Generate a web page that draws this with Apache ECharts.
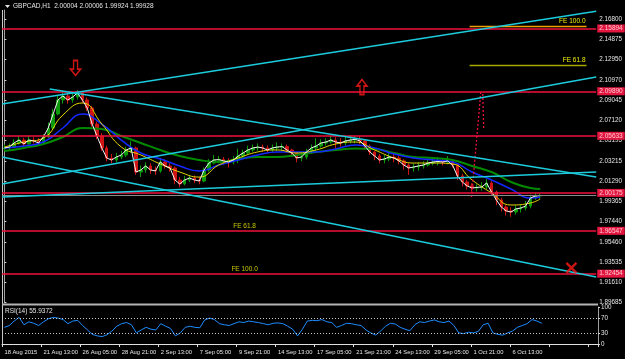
<!DOCTYPE html>
<html>
<head>
<meta charset="utf-8">
<script src="https://cdn.jsdelivr.net/npm/echarts@6/dist/echarts.min.js"></script>
<style>html,body{margin:0;padding:0;background:#000;}</style>
</head>
<body>
<div id="main" style="width:625px;height:359px;"></div>
<script type="text/javascript">
// GBPCAD H1, 18 Aug - 7 Oct 2015, one candle per 8 hours
var timeLabels = ['18 Aug 2015', '21 Aug 13:00', '26 Aug 05:00', '28 Aug 21:00', '2 Sep 13:00', '7 Sep 05:00',
    '9 Sep 21:00', '14 Sep 13:00', '17 Sep 05:00', '21 Sep 21:00', '24 Sep 13:00', '29 Sep 05:00',
    '1 Oct 21:00', '6 Oct 13:00'];
var priceTicks = [2.16800, 2.14875, 2.12950, 2.10970, 2.09045, 2.07120, 2.05195, 2.03215, 2.01290,
    1.99365, 1.97440, 1.95460, 1.93535, 1.91610, 1.89685];
var rsiTicks = [0, 30, 70, 100];
var levels = [2.15894, 2.09890, 2.05633, 2.00175, 1.96547, 1.92454];
var bidPrice = 1.99928;
var titleText = 'GBPCAD,H1  2.00004 2.00006 1.99924 1.99928';
var rsiText = 'RSI(14) 55.9372';

var firstOpen = 2.0440;
var closes = [2.0447, 2.0456, 2.0495, 2.0523, 2.0485, 2.0523, 2.0514, 2.0495, 2.0552, 2.0638,
    2.0772, 2.0906, 2.0944, 2.0906, 2.0934, 2.0973, 2.0906, 2.0829, 2.0676, 2.0561,
    2.0447, 2.0351, 2.0332, 2.0361, 2.0380, 2.0428, 2.0447, 2.0217, 2.0237, 2.0275,
    2.0237, 2.0227, 2.0313, 2.0275, 2.0256, 2.0141, 2.0103, 2.0141, 2.0160, 2.0141,
    2.0131, 2.0237, 2.0303, 2.0332, 2.0336, 2.0323, 2.0313, 2.0332, 2.0370, 2.0399,
    2.0428, 2.0447, 2.0456, 2.0447, 2.0428, 2.0447, 2.0456, 2.0460, 2.0428, 2.0399,
    2.0351, 2.0361, 2.0409, 2.0447, 2.0466, 2.0495, 2.0504, 2.0523, 2.0504, 2.0495,
    2.0514, 2.0523, 2.0530, 2.0514, 2.0466, 2.0409, 2.0370, 2.0332, 2.0342, 2.0361,
    2.0351, 2.0323, 2.0284, 2.0256, 2.0265, 2.0275, 2.0284, 2.0303, 2.0313, 2.0318,
    2.0313, 2.0323, 2.0284, 2.0179, 2.0122, 2.0084, 2.0064, 2.0070, 2.0074, 2.0112,
    2.0026, 1.9950, 1.9883, 1.9845, 1.9835, 1.9864, 1.9873, 1.9892, 1.9969, 1.9988,
    1.99928];
var highs = [2.0480, 2.0490, 2.0530, 2.0560, 2.0545, 2.0565, 2.0550, 2.0540, 2.0580, 2.0690,
    2.0820, 2.0950, 2.0985, 2.0970, 2.0980, 2.1000, 2.0990, 2.0930, 2.0850, 2.0700,
    2.0590, 2.0470, 2.0390, 2.0400, 2.0420, 2.0460, 2.0510, 2.0460, 2.0280, 2.0310,
    2.0300, 2.0270, 2.0350, 2.0340, 2.0300, 2.0270, 2.0170, 2.0180, 2.0190, 2.0185,
    2.0170, 2.0260, 2.0340, 2.0380, 2.0370, 2.0360, 2.0350, 2.0370, 2.0440, 2.0430,
    2.0470, 2.0480, 2.0490, 2.0480, 2.0470, 2.0480, 2.0500, 2.0490, 2.0480, 2.0440,
    2.0410, 2.0390, 2.0440, 2.0480, 2.0540, 2.0530, 2.0540, 2.0560, 2.0550, 2.0540,
    2.0560, 2.0570, 2.0560, 2.0560, 2.0530, 2.0480, 2.0420, 2.0390, 2.0380, 2.0400,
    2.0390, 2.0370, 2.0340, 2.0300, 2.0300, 2.0310, 2.0320, 2.0340, 2.0350, 2.0360,
    2.0350, 2.0370, 2.0340, 2.0300, 2.0200, 2.0140, 2.0110, 2.0100, 2.0120, 2.0150,
    2.0130, 2.0040, 1.9970, 1.9900, 1.9880, 1.9900, 1.9910, 1.9940, 2.0000, 2.0020,
    2.0015];
var lows = [2.0420, 2.0430, 2.0445, 2.0480, 2.0462, 2.0470, 2.0490, 2.0470, 2.0480, 2.0540,
    2.0620, 2.0760, 2.0870, 2.0870, 2.0880, 2.0910, 2.0880, 2.0800, 2.0650, 2.0530,
    2.0420, 2.0320, 2.0300, 2.0310, 2.0340, 2.0360, 2.0400, 2.0190, 2.0170, 2.0210,
    2.0200, 2.0190, 2.0210, 2.0250, 2.0220, 2.0100, 2.0070, 2.0090, 2.0120, 2.0110,
    2.0100, 2.0120, 2.0220, 2.0290, 2.0300, 2.0290, 2.0260, 2.0290, 2.0300, 2.0350,
    2.0380, 2.0410, 2.0420, 2.0410, 2.0400, 2.0400, 2.0420, 2.0420, 2.0400, 2.0370,
    2.0310, 2.0320, 2.0340, 2.0390, 2.0420, 2.0450, 2.0470, 2.0490, 2.0440, 2.0460,
    2.0470, 2.0490, 2.0490, 2.0480, 2.0430, 2.0380, 2.0330, 2.0300, 2.0300, 2.0320,
    2.0310, 2.0290, 2.0240, 2.0190, 2.0220, 2.0230, 2.0250, 2.0270, 2.0280, 2.0280,
    2.0280, 2.0290, 2.0260, 2.0140, 2.0080, 2.0050, 2.0030, 2.0030, 2.0040, 2.0050,
    1.9990, 1.9900, 1.9840, 1.9800, 1.9790, 1.9810, 1.9830, 1.9850, 1.9870, 1.9950,
    1.9960];

// moving averages, sampled every 4 candles
var maIdx = [0, 4, 8, 12, 16, 20, 24, 28, 32, 36, 40, 44, 48, 52, 56, 60, 64, 68, 72, 76, 80, 84, 88, 92, 96, 100, 104, 108, 110];
var maYellow = [2.0456, 2.0504, 2.0542, 2.0762, 2.0877, 2.0676, 2.0456, 2.0380, 2.0294, 2.0217, 2.0169, 2.0284, 2.0351, 2.0409, 2.0428,
    2.0399, 2.0428, 2.0485, 2.0504, 2.0428, 2.0351, 2.0303, 2.0303, 2.0294, 2.0141, 2.0017, 1.9902, 1.9921, 1.9959];
var maBlue = [2.0447, 2.0466, 2.0504, 2.0638, 2.0772, 2.0676, 2.0523, 2.0399, 2.0342, 2.0275, 2.0227, 2.0284, 2.0332, 2.0380, 2.0409,
    2.0409, 2.0409, 2.0437, 2.0475, 2.0447, 2.0389, 2.0351, 2.0332, 2.0313, 2.0217, 2.0141, 2.0055, 1.9969, 1.9978];
var maGreen = [2.0418, 2.0447, 2.0485, 2.0552, 2.0638, 2.0628, 2.0562, 2.0495, 2.0428, 2.0370, 2.0332, 2.0313, 2.0342, 2.0361, 2.0361,
    2.0380, 2.0409, 2.0428, 2.0442, 2.0437, 2.0399, 2.0361, 2.0351, 2.0332, 2.0275, 2.0217, 2.0122, 2.0064, 2.0055];

var rsi = [45, 50, 62, 72, 52, 60, 56, 50, 60, 68, 72, 70, 66, 55, 62, 64, 50, 38, 26, 22,
    20, 25, 35, 48, 55, 58, 52, 30, 38, 45, 40, 38, 55, 48, 42, 22, 30, 45, 48, 45,
    44, 65, 70, 66, 55, 52, 50, 55, 60, 58, 62, 60, 58, 55, 52, 56, 57, 55, 48, 40,
    22, 40, 62, 64, 63, 66, 60, 58, 45, 50, 56, 55, 52, 50, 38, 30, 24, 35, 48, 56,
    54, 45, 40, 36, 52, 60, 58, 62, 65, 60, 58, 62, 50, 30, 28, 32, 30, 34, 52, 56,
    30, 26, 24, 30, 35, 45, 50, 55, 66, 62, 56];

// drawn objects: [slot1, price1, slot2, price2]
var trendLines = [
    [-0.5, 2.0867, 121.5, 2.1754],
    [-0.5, 2.0103, 121.5, 2.1125],
    [9.3, 2.1011, 121.5, 2.0169],
    [-0.5, 2.0361, 121.5, 1.9213],
    [-0.5, 1.9978, 121.5, 2.0217]
];
var feTop = [['FE 100.0', 2.1612, '#f0a000'], ['FE 61.8', 2.1240, '#a8a800']];
var feTopSpan = [95.5, 119.5];
var feLow = [['FE 61.8', 49.3, 1.96547], ['FE 100.0', 49.3, 1.92454]];
var dottedLines = [
    [97.8, 2.0982, 95.9, 1.9978],
    [98.2, 2.0963, 98.4, 2.0634]
];
var arrowMarks = [[14.6, 2.1211, 0], [73.4, 2.1030, 180]];
var crossMark = [116.4, 1.9300];

var nSlots = 122;
var FONT = 'Liberation Sans';

var cats = [];
for (var i = 0; i < nSlots; i++) {
    cats.push(i % 8 === 0 && timeLabels[i / 8] ? timeLabels[i / 8] : '#' + i);
}
var candles = closes.map(function (c, i) {
    var o = i === 0 ? firstOpen : closes[i - 1];
    return [o, c, lows[i], highs[i]];
});
function maData(arr) {
    return arr.map(function (v, k) { return [maIdx[k], v]; });
}

var chart = echarts.init(document.getElementById('main'));

var series = [
    {
        name: 'candles', type: 'candlestick', xAxisIndex: 0, yAxisIndex: 0,
        data: candles, barWidth: 3, z: 2,
        itemStyle: {
            color: '#0a9a0a', color0: '#d01414',
            borderColor: '#0a9a0a', borderColor0: '#d01414', borderWidth: 1
        }
    },
    {
        name: 'ma green', type: 'line', xAxisIndex: 0, yAxisIndex: 0, data: maData(maGreen),
        smooth: true, symbol: 'none', z: 3, lineStyle: { color: '#008a00', width: 2 }
    },
    {
        name: 'ma blue', type: 'line', xAxisIndex: 0, yAxisIndex: 0, data: maData(maBlue),
        smooth: true, symbol: 'none', z: 3, lineStyle: { color: '#1428ff', width: 1.5 }
    },
    {
        name: 'ma yellow', type: 'line', xAxisIndex: 0, yAxisIndex: 0, data: maData(maYellow),
        smooth: true, symbol: 'none', z: 3, lineStyle: { color: '#e6d800', width: 1 }
    },
    {
        name: 'close', type: 'line', xAxisIndex: 0, yAxisIndex: 0, data: closes,
        symbol: 'none', z: 3, lineStyle: { color: '#f4f4f4', width: 1 }
    }
];

trendLines.forEach(function (t, k) {
    var s = {
        type: 'line', xAxisIndex: 1, yAxisIndex: 0, symbol: 'none', z: 5, silent: true,
        data: [[t[0], t[1]], [t[2], t[3]]],
        lineStyle: { color: '#1ccbdc', width: 1.6 }
    };
    if (k === 0) {
        s.markLine = {
            symbol: 'none', silent: true, animation: false, precision: 5,
            lineStyle: { color: '#f0103c', width: 1.5, type: 'solid' },
            label: {
                position: 'end', distance: 1,
                formatter: function (p) { return (+p.value).toFixed(5); },
                backgroundColor: '#e3163f', color: '#ffc8d2',
                fontSize: 6.5, fontFamily: FONT, padding: [1, 2, 0, 2]
            },
            data: levels.map(function (v) { return { yAxis: v }; }).concat([{
                yAxis: bidPrice, lineStyle: { color: '#8a8a8a', width: 1.2 }, label: { show: false }
            }])
        };
    }
    series.push(s);
});

series.push({
    type: 'line', xAxisIndex: 1, yAxisIndex: 0, symbol: 'none', z: 4, silent: true,
    data: [],
    markLine: {
        symbol: 'none', silent: true, animation: false,
        label: {
            position: 'insideEndTop', distance: 1, formatter: '{b}',
            color: '#f0f000', fontSize: 6.5, fontFamily: FONT
        },
        data: feTop.map(function (f) {
            return [
                { name: f[0], coord: [feTopSpan[0], f[1]], lineStyle: { color: f[2], width: 1.4, type: 'solid' } },
                { coord: [feTopSpan[1], f[1]] }
            ];
        })
    }
});

dottedLines.forEach(function (d) {
    series.push({
        type: 'line', xAxisIndex: 1, yAxisIndex: 0, symbol: 'none', z: 4, silent: true,
        data: [[d[0], d[1]], [d[2], d[3]]],
        lineStyle: { color: '#f0103c', width: 1.3, type: [2, 2] }
    });
});

series.push({
    type: 'scatter', xAxisIndex: 1, yAxisIndex: 0, z: 6, silent: true,
    symbolSize: 0,
    data: feLow.map(function (f) { return { name: f[0], value: [f[1], f[2]] }; }),
    label: {
        show: true, position: 'top', distance: 1, formatter: '{b}',
        color: '#f0f000', fontSize: 6.5, fontFamily: FONT
    }
});

series.push({
    type: 'scatter', xAxisIndex: 1, yAxisIndex: 0, z: 6, silent: true,
    symbol: 'path://M3,0L7,0L7,8L10,8L5,14L0,8L3,8Z', symbolSize: [10, 15],
    data: arrowMarks.map(function (a) { return { value: [a[0], a[1]], symbolRotate: a[2] }; }),
    itemStyle: { color: 'rgba(0,0,0,0)', borderColor: '#ff1a1a', borderWidth: 1.6 }
});

series.push({
    type: 'scatter', xAxisIndex: 1, yAxisIndex: 0, z: 6, silent: true,
    symbol: 'path://M0,0L10,10M10,0L0,10', symbolSize: 10,
    data: [crossMark],
    itemStyle: { color: 'rgba(0,0,0,0)', borderColor: '#ff1a1a', borderWidth: 2.4 }
});

series.push({
    name: 'rsi', type: 'line', xAxisIndex: 2, yAxisIndex: 1, data: rsi,
    symbol: 'none', z: 3, lineStyle: { color: '#1e8cff', width: 1 },
    markLine: {
        symbol: 'none', silent: true, animation: false, label: { show: false },
        lineStyle: { color: '#c8c8c8', width: 1, type: [1, 2] },
        data: [{ yAxis: 70 }, { yAxis: 30 }]
    }
});

chart.setOption({
    backgroundColor: '#000',
    animation: false,
    textStyle: { fontFamily: FONT },
    grid: [
        { left: 2, right: 27, top: 10, height: 293 },
        { left: 2, right: 27, top: 307, height: 37 }
    ],
    xAxis: [
        {
            type: 'category', gridIndex: 0, data: cats,
            axisLine: { show: false }, axisTick: { show: false }, axisLabel: { show: false }
        },
        {
            type: 'value', gridIndex: 0, min: -0.5, max: nSlots - 0.5, show: false
        },
        {
            type: 'category', gridIndex: 1, data: cats,
            axisLine: { show: true, lineStyle: { color: '#e0e0e0', width: 1 } },
            axisTick: { show: true, interval: 7, length: 3, lineStyle: { color: '#e0e0e0' } },
            axisLabel: {
                interval: 7, align: 'left', margin: 5, color: '#e6e6e6', fontSize: 5.8, fontFamily: FONT,
                formatter: function (v) { return v.charAt(0) === '#' ? '' : v; }
            }
        }
    ],
    yAxis: [
        {
            type: 'value', gridIndex: 0, position: 'right', min: 1.8965, max: 2.1766,
            axisLine: { show: true, lineStyle: { color: '#a0a0a0', width: 1 } },
            axisTick: { show: true, customValues: priceTicks, length: 2, lineStyle: { color: '#d0d0d0' } },
            axisLabel: {
                customValues: priceTicks, margin: 3, color: '#e6e6e6', fontSize: 6.3, fontFamily: FONT,
                formatter: function (v) { return v.toFixed(5); }
            },
            splitLine: { show: false }
        },
        {
            type: 'value', gridIndex: 1, position: 'right', min: 0, max: 100,
            axisLine: { show: true, lineStyle: { color: '#a0a0a0', width: 1 } },
            axisTick: { show: true, customValues: rsiTicks, length: 2, lineStyle: { color: '#d0d0d0' } },
            axisLabel: {
                customValues: rsiTicks, margin: 3, color: '#e6e6e6', fontSize: 6.3, fontFamily: FONT
            },
            splitLine: { show: false }
        }
    ],
    graphic: [
        { type: 'line', shape: { x1: 2.5, y1: 10, x2: 2.5, y2: 344 }, style: { stroke: '#c8c8c8', lineWidth: 1 }, silent: true },
        { type: 'line', shape: { x1: 2, y1: 304.5, x2: 598, y2: 304.5 }, style: { stroke: '#b4b4b4', lineWidth: 2 }, silent: true },
        { type: 'polygon', shape: { points: [[5, 5], [10, 5], [7.5, 8]] }, style: { fill: '#e6e6e6' }, silent: true },
        { type: 'text', left: 13, top: 3, style: { text: titleText, fill: '#e6e6e6', font: '6.5px "Liberation Sans"' }, silent: true },
        { type: 'text', left: 5, top: 308, style: { text: rsiText, fill: '#e6e6e6', font: '6.5px "Liberation Sans"' }, silent: true }
    ],
    series: series
});
</script>
</body>
</html>
